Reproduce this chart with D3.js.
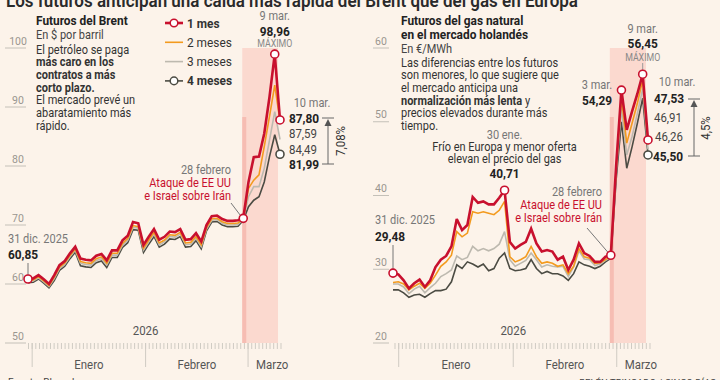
<!DOCTYPE html>
<html><head><meta charset="utf-8">
<script src="https://cdn.jsdelivr.net/npm/d3@7"></script>
<style>html,body{margin:0;padding:0;background:#fcf3ea;overflow:hidden}svg{display:block}</style>
</head><body><svg id="c" width="720" height="380"></svg>
<script>
// ---------------- DATA ----------------
const dates = ["2025-12-31","2026-01-02","2026-01-05","2026-01-06","2026-01-07","2026-01-08","2026-01-09",
"2026-01-12","2026-01-13","2026-01-14","2026-01-15","2026-01-16","2026-01-19","2026-01-20","2026-01-21",
"2026-01-22","2026-01-23","2026-01-26","2026-01-27","2026-01-28","2026-01-29","2026-01-30","2026-02-02",
"2026-02-03","2026-02-04","2026-02-05","2026-02-06","2026-02-09","2026-02-10","2026-02-11","2026-02-12",
"2026-02-13","2026-02-16","2026-02-17","2026-02-18","2026-02-19","2026-02-20","2026-02-23","2026-02-24",
"2026-02-25","2026-02-26","2026-02-27","2026-03-02","2026-03-03","2026-03-04","2026-03-05","2026-03-06",
"2026-03-09","2026-03-10"];
const seriesNames = ["1 mes","2 meses","3 meses","4 meses"];

const brent1 = [60.85,60.95,61.5,60.8,60.0,61.5,63.2,63.9,65.2,66.3,64.3,64.1,64.0,64.8,65.1,64.0,65.7,65.7,67.4,68.2,70.5,70.3,
66.6,68.0,69.3,67.5,68.0,68.9,68.8,69.3,67.5,67.6,68.6,67.2,70.0,71.5,71.6,71.0,70.7,70.7,70.8,71.13,77.3,81.5,81.6,85.5,91.7,98.96,87.80];
const brent2 = [60.6,60.7,61.25,60.55,59.75,61.15,62.85,63.55,64.85,65.95,63.8,63.6,63.5,64.3,64.6,63.5,65.2,65.2,66.9,67.7,69.9,69.7,
66.05,67.45,68.75,66.95,67.45,68.35,68.25,68.75,66.95,67.05,68.05,66.65,69.55,71.05,71.15,70.55,70.25,70.25,70.35,71.05,76.2,77.6,78.5,83.3,88.4,93.7,87.59];
const brent3 = [60.4,60.5,61.05,60.35,59.55,60.9,62.6,63.3,64.6,65.7,63.5,63.3,63.2,64.0,64.3,63.2,64.9,64.9,66.6,67.4,69.6,69.5,
65.75,67.15,68.45,66.65,67.15,68.05,67.95,68.45,66.65,66.75,67.75,66.35,69.3,70.8,70.9,70.3,70.0,70.0,70.1,70.95,74.8,76.5,76.5,79.6,84.4,89.2,84.49];
const brent4 = [60.2,60.3,60.85,60.15,59.35,60.6,62.3,63.0,64.3,65.4,63.1,62.9,62.8,63.6,63.9,62.8,64.5,64.5,66.2,67.0,69.2,69.1,
65.35,66.75,68.05,66.25,66.75,67.65,67.55,68.05,66.25,66.35,67.35,65.95,69.0,70.5,70.6,70.0,69.7,69.7,69.8,70.8,73.1,74.2,74.8,77.3,81.6,85.3,81.99];

const gas1 = [29.48,29.3,28.5,27.4,28.1,28.6,27.6,28.5,30.3,31.3,31.8,33.1,36.8,35.3,36.0,39.8,39.0,39.2,38.8,38.8,39.7,40.71,
33.7,32.8,33.3,33.7,35.5,33.5,32.4,32.6,32.4,31.3,31.7,29.9,31.3,33.5,32.2,31.8,31.0,31.0,31.7,31.9,44.0,54.29,48.9,51.4,53.8,56.45,47.53];
const gas2 = [28.2,28.3,28.0,27.2,27.7,28.1,27.4,28.1,29.2,30.4,31.0,31.9,35.1,34.4,34.9,37.8,37.6,37.8,37.6,37.4,38.0,39.2,
31.7,31.0,31.3,31.7,33.1,31.7,30.8,31.0,30.8,30.4,30.6,29.4,30.4,32.8,31.7,31.5,30.8,30.9,31.3,31.8,43.5,53.2,47.1,49.8,52.5,55.7,46.91];
const gas3 = [28.0,28.0,27.6,26.7,27.3,27.7,26.8,27.5,28.1,29.0,29.4,29.9,31.8,31.3,31.6,33.1,32.5,32.8,32.5,32.8,33.4,35.1,
31.3,30.4,30.8,31.2,32.2,31.3,30.3,30.6,30.4,30.3,30.4,29.0,30.3,32.5,31.4,31.3,30.5,30.7,31.2,31.6,43.0,51.8,45.5,48.0,51.1,54.5,46.26];
const gas4 = [27.2,27.2,26.8,26.2,26.5,26.6,26.2,26.7,27.1,27.1,27.3,28.3,30.6,30.1,31.0,30.7,30.3,30.7,29.8,30.1,31.5,32.2,
30.1,29.8,29.9,30.1,31.3,30.1,29.4,29.7,29.4,29.4,29.1,28.5,29.4,31.0,30.6,30.4,30.1,30.4,31.0,31.5,42.1,50.0,43.7,46.6,49.8,53.2,45.50];

const brentTicks = [50,60,70,80,90,100];
const gasTicks = [20,30,40,50,60];
const monthNames = ["Enero","Febrero","Marzo"];
const yearLabel = "2026";

// ---------------- SETUP ----------------
const svg = d3.select("#c");
const BG = "#fcf3ea";
const COL = ["#c8102e","#f39a1e","#bdb9af","#4b4b43"];
const WID = [2.6,1.6,1.6,1.6];
const FONT = "Roboto, 'Open Sans', Arial, sans-serif";
const SX = 0.88;
const fmt = d3.formatLocale({decimal:",",thousands:".",grouping:[3],currency:["","€"]}).format(".2f");
const parse = d3.timeParse("%Y-%m-%d");

svg.append("rect").attr("width",720).attr("height",380).attr("fill",BG);

// text helper: segs = string or [[str,bold],...]
function txt(x, y, segs, o = {}) {
  const t = svg.append("text")
    .attr("transform", `translate(${x},${y})` + (o.rot ? ` rotate(${o.rot})` : "") + ` scale(${o.sx ?? SX},1)`)
    .attr("font-family", FONT)
    .attr("font-size", o.size ?? 12.5)
    .attr("fill", o.color ?? "#333")
    .attr("text-anchor", o.anchor ?? "start")
    .attr("font-weight", o.bold ? 700 : 400);
  if (typeof segs === "string") t.text(segs);
  else segs.forEach(([s, b]) => t.append("tspan").attr("font-weight", b ? 700 : 400).text(s));
  return t;
}

// Title (clipped at top)
{
  const t = svg.append("text").attr("x",6).attr("y",7).attr("font-family",FONT)
    .attr("font-size",19).attr("font-weight",600).attr("fill","#2a2a2a")
    .text("Los futuros anticipan una caída más rápida del Brent que del gas en Europa");
  const w = t.node().getComputedTextLength();
  t.attr("textLength",572).attr("lengthAdjust","spacingAndGlyphs");
}
txt(8, 386, "Fuente: Bloomberg", {size:10, color:"#444", sx:1});
txt(716, 386, "BELÉN TRINCADO / CINCO DÍAS", {size:9.5, color:"#444", anchor:"end", sx:1});

const Y0 = 343, Y1 = 48;

function panel(cfg) {
  const x = d3.scalePoint().domain(dates).range(cfg.xr);
  const xt = d3.scaleTime().domain([parse(dates[0]), parse(dates[dates.length-1])]).range(cfg.xtr);
  const y = d3.scaleLinear().domain(cfg.yd).range([Y0, Y1]);
  const g = svg.append("g");
  const iFeb27 = dates.indexOf("2026-02-27");
  const iEnd = dates.length - 1;

  // shaded war period
  g.append("rect").attr("x", x(dates[iFeb27]) - 1).attr("y", Y1)
    .attr("width", x(dates[iEnd]) - 2 - (x(dates[iFeb27]) - 1)).attr("height", Y0 - Y1)
    .attr("fill", "#fbd9cf");
  g.append("rect").attr("x", x(dates[iFeb27]) - 1).attr("y", 117)
    .attr("width", 4).attr("height", Y0 - 117).attr("fill", "#f6bdb3");

  // y stubs + labels
  cfg.ticks.forEach(v => {
    g.append("line").attr("x1", cfg.stub[0]).attr("x2", cfg.stub[1]).attr("y1", y(v)).attr("y2", y(v))
      .attr("stroke", "#c4c0b8").attr("stroke-width", 1);
    txt(cfg.labX, y(v) - 3.5, String(v), {size:10.5, color:"#9a9690", anchor:"middle", sx:1});
  });

  // x axis ticks
  const d0 = parse(dates[0]), d1 = parse(dates[iEnd]);
  d3.timeDay.range(d0, d3.timeDay.offset(d1, 1)).forEach(d => {
    g.append("line").attr("x1", xt(d)).attr("x2", xt(d)).attr("y1", Y0).attr("y2", Y0 + 6)
      .attr("stroke", "#cfcbc3").attr("stroke-width", 1);
  });
  const months = d3.timeMonth.range(d3.timeDay.offset(d0,1), d1);
  months.forEach((m, i) => {
    g.append("line").attr("x1", xt(m)).attr("x2", xt(m)).attr("y1", Y0).attr("y2", Y0 + 24)
      .attr("stroke", "#cfcbc3").attr("stroke-width", 1);
    if (i < months.length - 1) {
      txt((xt(m) + xt(months[i+1])) / 2, 369, monthNames[i], {size:13, color:"#555", anchor:"middle"});
    } else {
      txt(xt(m) + 8, 369, monthNames[i], {size:13, color:"#555"});
    }
  });
  txt(xt(months[1]), 335, yearLabel, {size:13, color:"#555", anchor:"middle"});

  // lines
  const line = d3.line().x((d, i) => x(dates[i])).y(d => y(d));
  for (let k = 3; k >= 0; k--) {
    g.append("path").datum(cfg.series[k]).attr("d", line).attr("fill", "none")
      .attr("stroke", COL[k]).attr("stroke-width", WID[k]).attr("stroke-linejoin", "miter").attr("stroke-miterlimit", 3);
  }
  return {x, y, g, iFeb27, iEnd};
}

function marker(p, i, k) {
  const s = k === 0 ? p.s1 : p.s4;
  svg.append("circle").attr("cx", p.x(dates[i])).attr("cy", p.y(s[i])).attr("r", 4)
    .attr("fill", "#fff").attr("stroke", COL[k]).attr("stroke-width", 1.6);
}
function seg(x1, y1, x2, y2, c = "#777") {
  svg.append("line").attr("x1", x1).attr("y1", y1).attr("x2", x2).attr("y2", y2).attr("stroke", c).attr("stroke-width", 1);
}
function bracket(xc, yTop, yBot, label, lx, ly) {
  seg(xc - 6, yTop, xc + 6, yTop, "#666");
  seg(xc - 6, yBot, xc + 6, yBot, "#666");
  seg(xc, yTop + 6, xc, yBot, "#666");
  svg.append("path").attr("d", `M${xc},${yTop+1}L${xc-3.5},${yTop+8}L${xc+3.5},${yTop+8}Z`).attr("fill", "#555");
  txt(lx, ly, label, {size:13, color:"#333", anchor:"middle", rot:-90});
}

// ---------------- LEFT: BRENT ----------------
const L = panel({series:[brent1,brent2,brent3,brent4], yd:[50,100], ticks:brentTicks,
  xr:[28,280], xtr:[28.5,281], stub:[5,26], labX:18});
L.s1 = brent1; L.s4 = brent4;

// header
txt(36, 25, "Futuros del Brent", {size:13.5, bold:true, color:"#222"});
txt(36, 39, "En $ por barril", {size:12.5, color:"#444"});
[[["El petróleo se paga",0]],[["más caro en los",1]],[["contratos a más",1]],[["corto plazo.",1]],
 [["El mercado prevé un",0]],[["abaratamiento más",0]],[["rápido.",0]]]
  .forEach((s, i) => txt(36, 53.5 + i * 12.7, s, {size:12.5, color:"#333"}));

// legend
seriesNames.forEach((n, k) => {
  const yy = 23 + k * 19.3;
  svg.append("line").attr("x1", 165).attr("x2", 183).attr("y1", yy).attr("y2", yy)
    .attr("stroke", COL[k]).attr("stroke-width", WID[k]);
  if (k === 0 || k === 3)
    svg.append("circle").attr("cx", 174).attr("cy", yy).attr("r", 3.8).attr("fill", "#fff")
      .attr("stroke", COL[k]).attr("stroke-width", 1.5);
  txt(187, yy + 4.5, n, {size:13.5, bold:(k === 0 || k === 3), color:"#333"});
});

// annotations left
{
  const xp = L.x(dates[47]);
  txt(xp, 20, "9 mar.", {size:12.5, color:"#777", anchor:"middle"});
  txt(xp, 36, fmt(brent1[47]), {size:13.5, bold:true, color:"#222", anchor:"middle"});
  txt(xp, 47, "MÁXIMO", {size:10, color:"#888", anchor:"middle"});
  seg(xp, 49, xp, L.y(brent1[47]) - 4, "#999");

  txt(312, 107, "10 mar.", {size:12.5, color:"#777", anchor:"middle"});
  txt(289, 123, fmt(brent1[48]), {size:13.5, bold:true, color:"#222"});
  txt(289, 138, fmt(brent2[48]), {size:13, color:"#444"});
  txt(289, 153.5, fmt(brent3[48]), {size:13, color:"#444"});
  txt(289, 169, fmt(brent4[48]), {size:13.5, bold:true, color:"#222"});
  bracket(328, 118, 164, "7,08%", 345, 141);

  txt(231, 174, "28 febrero", {size:12.5, color:"#777", anchor:"end"});
  txt(231, 187, "Ataque de EE UU", {size:12.5, color:"#c8102e", anchor:"end"});
  txt(231, 199.5, "e Israel sobre Irán", {size:12.5, color:"#c8102e", anchor:"end"});
  seg(231, 203, L.x(dates[41]) - 2.5, L.y(brent1[41]) - 2.5, "#777");

  txt(8, 243, "31 dic. 2025", {size:12.5, color:"#777"});
  txt(8, 259, fmt(brent1[0]), {size:13.5, bold:true, color:"#222"});
  seg(L.x(dates[0]), 263, L.x(dates[0]), L.y(brent1[0]) - 4, "#777");

  [0, 41, 47, 48].forEach(i => marker(L, i, 0));
  marker(L, 48, 3);
}

// ---------------- RIGHT: GAS ----------------
const R = panel({series:[gas1,gas2,gas3,gas4], yd:[20,60], ticks:gasTicks,
  xr:[393,648], xtr:[395,650], stub:[373,389], labX:381});
R.s1 = gas1; R.s4 = gas4;

txt(401, 25, "Futuros del gas natural", {size:13.5, bold:true, color:"#222"});
txt(401, 39, "en el mercado holandés", {size:13.5, bold:true, color:"#222"});
txt(401, 53, "En €/MWh", {size:12.5, color:"#444"});
[[["Las diferencias entre los futuros",0]],[["son menores, lo que sugiere que",0]],[["el mercado anticipa una",0]],
 [["normalización más lenta",1],[" y",0]],[["precios elevados durante más",0]],[["tiempo.",0]]]
  .forEach((s, i) => txt(401, 66.5 + i * 12.7, s, {size:12.5, color:"#333"}));

{
  const xp = R.x(dates[47]);
  txt(xp, 33, "9 mar.", {size:12.5, color:"#777", anchor:"middle"});
  txt(xp, 48, fmt(gas1[47]), {size:13.5, bold:true, color:"#222", anchor:"middle"});
  txt(xp, 61, "MÁXIMO", {size:10, color:"#888", anchor:"middle"});
  seg(xp, 63, xp, R.y(gas1[47]) - 4, "#999");

  txt(597, 89, "3 mar.", {size:12.5, color:"#777", anchor:"middle"});
  txt(597, 104.5, fmt(gas1[43]), {size:13.5, bold:true, color:"#222", anchor:"middle"});

  txt(677, 86, "10 mar.", {size:12.5, color:"#777", anchor:"middle"});
  txt(654, 102.5, fmt(gas1[48]), {size:13.5, bold:true, color:"#222"});
  txt(654, 121.5, fmt(gas2[48]), {size:13, color:"#444"});
  txt(655, 141, fmt(gas3[48]), {size:13, color:"#444"});
  txt(653, 161, fmt(gas4[48]), {size:13.5, bold:true, color:"#222"});
  bracket(694, 99, 156, "4,5%", 710, 128);

  const xj = R.x(dates[21]);
  txt(xj, 139, "30 ene.", {size:12.5, color:"#777", anchor:"middle"});
  txt(xj, 151, "Frío en Europa y menor oferta", {size:12.5, color:"#333", anchor:"middle"});
  txt(xj, 162.5, "elevan el precio del gas", {size:12.5, color:"#333", anchor:"middle"});
  txt(xj, 177.5, fmt(gas1[21]), {size:13.5, bold:true, color:"#222", anchor:"middle"});

  txt(602, 196, "28 febrero", {size:12.5, color:"#777", anchor:"end"});
  txt(602, 209, "Ataque de EE UU", {size:12.5, color:"#c8102e", anchor:"end"});
  txt(602, 221.5, "e Israel sobre Irán", {size:12.5, color:"#c8102e", anchor:"end"});
  seg(587, 228, R.x(dates[41]) - 2.5, R.y(gas1[41]) - 2.5, "#777");

  txt(375, 224, "31 dic. 2025", {size:12.5, color:"#777"});
  txt(375, 241, fmt(gas1[0]), {size:13.5, bold:true, color:"#222"});
  seg(R.x(dates[0]), 245, R.x(dates[0]), R.y(gas1[0]) - 4, "#777");

  [0, 21, 41, 43, 47, 48].forEach(i => marker(R, i, 0));
  marker(R, 48, 3);
}
</script></body></html>
